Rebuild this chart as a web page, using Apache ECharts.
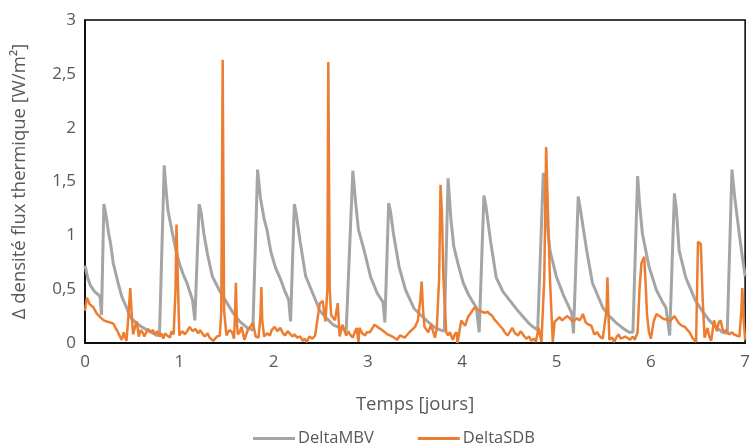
<!DOCTYPE html>
<html>
<head>
<meta charset="utf-8">
<script src="https://cdn.jsdelivr.net/npm/echarts@6/dist/echarts.min.js"></script>
<style>html,body{margin:0;padding:0;background:#fff}#c{width:753px;height:448px}</style>
</head>
<body>
<div id="c"></div>
<script>
var seriesNames = ['DeltaMBV', 'DeltaSDB'];
var xTicks = [0, 1, 2, 3, 4, 5, 6, 7];
var yTicks = ['0', '0,5', '1', '1,5', '2', '2,5', '3'];

var mbvT = [0.00,0.03,0.06,0.10,0.14,0.16,0.175,0.20,0.22,0.25,0.27,0.30,0.35,0.39,0.44,0.48,0.55,0.62,0.66,0.72,0.76,0.79,
0.84,0.86,0.88,0.92,0.96,1.00,1.04,1.08,1.14,1.165,1.21,1.23,1.26,1.30,1.35,1.43,1.50,1.57,1.64,1.72,1.78,1.80,
1.83,1.86,1.90,1.93,1.97,2.02,2.07,2.12,2.16,2.18,2.22,2.24,2.28,2.34,2.43,2.49,2.54,2.63,2.70,2.77,2.79,
2.84,2.87,2.90,2.96,3.03,3.10,3.16,3.18,3.22,3.24,3.27,3.33,3.40,3.49,3.56,3.62,3.70,3.77,3.81,
3.85,3.88,3.91,3.96,4.01,4.06,4.10,4.15,4.18,4.23,4.25,4.30,4.36,4.43,4.50,4.58,4.65,4.71,4.75,4.80,
4.86,4.89,4.93,5.00,5.08,5.16,5.18,5.23,5.26,5.32,5.38,5.49,5.56,5.63,5.70,5.77,5.81,
5.86,5.88,5.91,5.98,6.06,6.13,6.16,6.20,6.25,6.27,6.30,6.37,6.47,6.55,6.62,6.70,6.76,6.81,
6.86,6.89,6.94,6.97,7.00];
var mbvV = [0.72,0.60,0.53,0.48,0.45,0.43,0.26,1.29,1.20,1.02,0.93,0.74,0.56,0.43,0.33,0.24,0.18,0.14,0.12,0.09,0.07,0.08,
1.65,1.42,1.23,1.05,0.88,0.74,0.64,0.56,0.40,0.21,1.29,1.22,1.02,0.82,0.62,0.48,0.38,0.28,0.20,0.14,0.12,0.13,
1.61,1.35,1.15,1.05,0.85,0.70,0.60,0.48,0.40,0.20,1.29,1.20,0.95,0.62,0.43,0.30,0.25,0.17,0.14,0.12,0.12,
1.60,1.30,1.05,0.86,0.61,0.46,0.38,0.19,1.30,1.22,1.02,0.71,0.49,0.32,0.26,0.21,0.15,0.12,0.11,
1.53,1.15,0.90,0.72,0.56,0.46,0.40,0.33,0.10,1.37,1.28,0.95,0.61,0.48,0.40,0.31,0.24,0.18,0.15,0.12,
1.58,1.20,0.86,0.61,0.43,0.28,0.09,1.36,1.20,0.86,0.56,0.33,0.25,0.19,0.14,0.10,0.10,
1.55,1.30,1.02,0.71,0.49,0.37,0.33,0.07,1.39,1.25,0.86,0.61,0.40,0.29,0.21,0.14,0.10,0.09,
1.61,1.35,1.00,0.80,0.62];

var sdbT = [0.00,0.02,0.05,0.09,0.12,0.16,0.20,0.23,0.27,0.30,0.33,0.35,0.37,0.39,0.41,0.43,0.44,0.46,0.48,0.50,0.51,0.53,0.55,0.57,0.59,0.61,0.63,0.65,0.67,0.69,0.72,0.74,0.77,0.79,0.81,0.83,0.85,0.87,0.90,0.92,0.94,0.96,0.97,0.99,
1.00,1.03,1.06,1.09,1.11,1.14,1.17,1.20,1.22,1.25,1.27,1.30,1.32,1.36,1.40,1.43,1.445,1.46,1.475,1.50,1.53,1.56,1.58,1.59,1.60,1.61,1.62,1.64,1.66,1.69,1.73,1.76,1.78,1.81,1.84,1.86,1.87,1.88,1.90,1.93,1.96,1.98,
2.01,2.04,2.07,2.10,2.12,2.15,2.17,2.20,2.22,2.25,2.28,2.31,2.33,2.35,2.38,2.41,2.44,2.47,2.49,2.52,2.55,2.57,2.58,2.595,2.61,2.65,2.68,2.70,2.73,2.77,2.79,2.81,2.84,2.86,2.88,2.90,2.91,2.94,2.97,2.99,
3.02,3.05,3.07,3.10,3.12,3.15,3.18,3.21,3.23,3.26,3.28,3.31,3.34,3.36,3.39,3.41,3.44,3.46,3.50,3.53,3.555,3.57,3.585,3.60,3.64,3.67,3.71,3.73,3.755,3.77,3.785,3.80,3.83,3.85,3.87,3.90,3.92,3.94,3.95,3.99,
4.03,4.06,4.10,4.13,4.16,4.18,4.21,4.24,4.27,4.29,4.32,4.34,4.37,4.40,4.43,4.45,4.48,4.51,4.53,4.56,4.59,4.62,4.64,4.66,4.68,4.71,4.73,4.76,4.78,4.81,4.84,4.87,4.89,4.91,4.93,4.96,4.98,
5.01,5.03,5.06,5.08,5.11,5.14,5.17,5.19,5.22,5.24,5.26,5.28,5.31,5.34,5.37,5.40,5.43,5.46,5.49,5.51,5.53,5.54,5.55,5.56,5.59,5.61,5.64,5.66,5.68,5.70,5.73,5.75,5.78,5.81,5.83,5.86,5.88,5.90,5.93,5.945,5.96,5.98,
6.00,6.03,6.06,6.09,6.11,6.14,6.17,6.20,6.22,6.25,6.27,6.30,6.33,6.36,6.39,6.41,6.44,6.48,6.50,6.53,6.55,6.57,6.60,6.62,6.64,6.67,6.70,6.72,6.74,6.76,6.78,6.80,6.83,6.86,6.88,6.91,6.94,6.96,6.97,6.985,7.00];
var sdbV = [0.30,0.42,0.36,0.33,0.28,0.24,0.21,0.20,0.19,0.18,0.13,0.10,0.06,0.03,0.10,0.04,0.02,0.25,0.51,0.20,0.08,0.15,0.20,0.06,0.12,0.10,0.06,0.10,0.13,0.10,0.12,0.08,0.11,0.06,0.09,0.04,0.09,0.07,0.05,0.11,0.08,0.50,1.10,0.40,
0.07,0.11,0.08,0.12,0.15,0.11,0.13,0.09,0.12,0.08,0.06,0.09,0.05,0.02,0.06,0.07,0.30,2.63,0.30,0.07,0.12,0.10,0.04,0.25,0.56,0.20,0.08,0.10,0.15,0.03,0.13,0.16,0.19,0.06,0.05,0.25,0.52,0.20,0.06,0.09,0.07,0.12,
0.15,0.11,0.14,0.09,0.07,0.11,0.09,0.06,0.08,0.05,0.06,0.02,0.04,0.01,0.06,0.04,0.07,0.25,0.37,0.39,0.20,0.50,2.61,0.50,0.26,0.21,0.37,0.06,0.17,0.07,0.11,0.08,0.05,0.10,0.14,0.01,0.14,0.09,0.07,0.10,
0.10,0.14,0.17,0.15,0.16,0.12,0.10,0.08,0.09,0.06,0.05,0.03,0.07,0.08,0.05,0.07,0.10,0.11,0.15,0.21,0.40,0.57,0.30,0.15,0.10,0.17,0.05,0.13,0.60,1.47,1.20,0.61,0.10,0.07,0.10,0.03,0.08,0.10,0.00,0.21,
0.16,0.24,0.29,0.33,0.31,0.30,0.29,0.28,0.29,0.27,0.25,0.22,0.19,0.16,0.13,0.10,0.07,0.11,0.14,0.09,0.07,0.11,0.10,0.06,0.04,0.06,0.02,0.04,0.01,0.14,0.01,0.60,1.82,1.20,0.60,0.01,0.20,
0.22,0.24,0.21,0.22,0.25,0.23,0.20,0.21,0.23,0.21,0.23,0.27,0.19,0.17,0.16,0.08,0.10,0.06,0.04,0.03,0.30,0.61,0.30,0.03,0.05,0.01,0.06,0.08,0.04,0.03,0.06,0.05,0.03,0.06,0.03,0.10,0.50,0.74,0.80,0.55,0.26,0.10,
0.04,0.20,0.27,0.25,0.24,0.22,0.22,0.20,0.21,0.25,0.24,0.18,0.16,0.15,0.12,0.10,0.05,0.01,0.94,0.92,0.40,0.05,0.14,0.06,0.02,0.21,0.11,0.19,0.21,0.13,0.10,0.12,0.08,0.10,0.08,0.07,0.06,0.30,0.51,0.20,0.03];

function zip(t, v) { return t.map(function (x, i) { return [x, v[i]]; }); }

var chart = echarts.init(document.getElementById('c'));
var txt = '#595959';
var ff = '"Open Sans", "Noto Sans", sans-serif';
chart.setOption({
  animation: false,
  textStyle: { fontFamily: ff },
  grid: { left: 85, right: 7, top: 20, bottom: 105, show: true, borderColor: '#000', borderWidth: 1.5 },
  legend: {
    top: 425, left: 248,
    data: seriesNames,
    icon: 'rect', itemWidth: 42, itemHeight: 3, itemGap: 44,
    textStyle: { color: txt, fontSize: 16.5, fontFamily: ff, padding: [0, 0, 0, -2] }
  },
  xAxis: {
    type: 'value', min: xTicks[0], max: xTicks[xTicks.length - 1], interval: 1,
    name: 'Temps [jours]', nameLocation: 'middle', nameGap: 52,
    nameTextStyle: { color: txt, fontSize: 18.5, fontFamily: ff },
    axisLine: { lineStyle: { color: '#000', width: 1.5 } },
    axisTick: { show: false },
    splitLine: { show: false },
    axisLabel: { color: txt, fontSize: 17, margin: 11, fontFamily: ff }
  },
  yAxis: {
    type: 'value', min: 0, max: 3, interval: 0.5,
    name: 'Δ densité flux thermique [W/m²]', nameLocation: 'middle', nameGap: 56,
    nameTextStyle: { color: txt, fontSize: 18.5, fontFamily: ff },
    axisLine: { show: true, lineStyle: { color: '#000', width: 1.5 } },
    axisTick: { show: false },
    splitLine: { show: false },
    axisLabel: { color: txt, fontSize: 17, margin: 9, fontFamily: ff,
      formatter: function (v) { return yTicks[Math.round(v * 2)]; } }
  },
  series: [
    { name: seriesNames[0], type: 'line', data: zip(mbvT, mbvV), showSymbol: false,
      lineStyle: { color: '#A5A5A5', width: 3 }, itemStyle: { color: '#A5A5A5' } },
    { name: seriesNames[1], type: 'line', data: zip(sdbT, sdbV), showSymbol: false,
      lineStyle: { color: '#ED7D31', width: 2.5 }, itemStyle: { color: '#ED7D31' } }
  ]
});
</script>
</body>
</html>
